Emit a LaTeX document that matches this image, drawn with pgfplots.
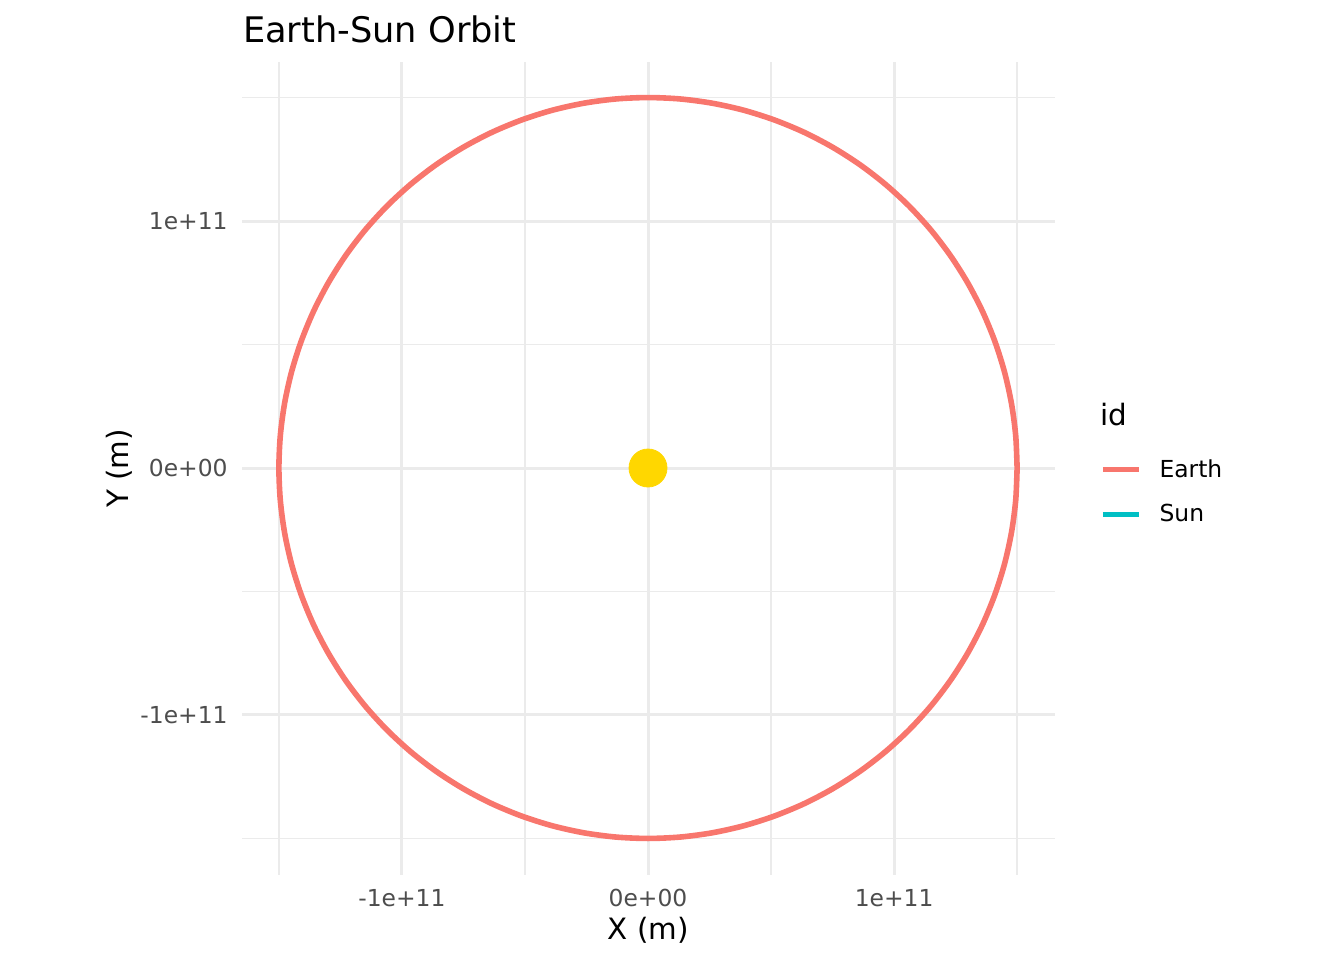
\documentclass[border=0pt]{standalone}
\usepackage{pgfplots}
\pgfplotsset{compat=1.18}
\usepackage{fontspec}
\setmainfont{DejaVu Sans}
\definecolor{earthred}{HTML}{F8766D}
\definecolor{suncyan}{HTML}{00BFC4}
\definecolor{sungold}{HTML}{FFD700}
\definecolor{gridgrey}{HTML}{EBEBEB}
\definecolor{ticktext}{HTML}{4D4D4D}

\begin{document}
\begin{tikzpicture}
\useasboundingbox (0,0) rectangle (672pt,480pt);
\begin{axis}[
  at={(121pt,42.5pt)}, anchor=south west,
  scale only axis, width=406.5pt, height=406.5pt,
  xmin=-1.65, xmax=1.654, ymin=-1.648, ymax=1.644,
  axis line style={draw=none},
  major tick length=0pt, minor tick length=0pt,
  xtick={-1,0,1}, xticklabels={-1e+11,0e+00,1e+11},
  ytick={-1,0,1}, yticklabels={-1e+11,0e+00,1e+11},
  minor xtick={-1.5,-0.5,0.5,1.5},
  minor ytick={-1.5,-0.5,0.5,1.5},
  grid=both,
  major grid style={gridgrey, line width=1.5pt},
  minor grid style={gridgrey, line width=0.8pt},
  tick label style={font=\fontsize{11.7}{14}\selectfont, text=ticktext},
  xticklabel style={anchor=center, inner sep=0pt, yshift=-11.5pt},
  yticklabel style={anchor=east, inner sep=0pt, xshift=-7pt},
  xlabel={X (m)}, ylabel={Y (m)},
  label style={font=\fontsize{14.7}{17}\selectfont},
  xlabel style={at={(axis description cs:0.5,0)}, anchor=center, yshift=-27.5pt},
  ylabel style={at={(axis description cs:-0.1513,0.5)}, anchor=center},
  title={Earth-Sun Orbit},
  title style={at={(axis description cs:0,1)}, anchor=base west, font=\fontsize{17.6}{21}\selectfont, yshift=3.5pt, xshift=-3pt},
  legend style={at={(rel axis cs:1.0553,0.4712)}, anchor=west, draw=none, fill=none,
    font=\fontsize{11.7}{14}\selectfont, inner sep=0pt, row sep=12pt,
    nodes={inner sep=0pt}},
  legend cell align=left,
  legend image code/.code={\draw[#1, line width=2.6pt] (0pt,0pt) -- (18pt,0pt);},
  legend style={/tikz/every odd column/.append style={column sep=9pt}},
  clip=false,
]
\addplot[earthred, line width=2.8pt, smooth, line join=round] coordinates {
(1.5,0) (1.4943,0.1307) (1.4772,0.2605) (1.4489,0.3882) (1.4095,0.5130) (1.3595,0.6339) (1.2990,0.75) (1.2287,0.8604) (1.1491,0.9642) (1.0607,1.0607) (0.9642,1.1491) (0.8604,1.2287) (0.75,1.2990) (0.6339,1.3595) (0.5130,1.4095) (0.3882,1.4489) (0.2605,1.4772) (0.1307,1.4943) (0,1.5)
(-0.1307,1.4943) (-0.2605,1.4772) (-0.3882,1.4489) (-0.5130,1.4095) (-0.6339,1.3595) (-0.75,1.2990) (-0.8604,1.2287) (-0.9642,1.1491) (-1.0607,1.0607) (-1.1491,0.9642) (-1.2287,0.8604) (-1.2990,0.75) (-1.3595,0.6339) (-1.4095,0.5130) (-1.4489,0.3882) (-1.4772,0.2605) (-1.4943,0.1307) (-1.5,0)
(-1.4943,-0.1307) (-1.4772,-0.2605) (-1.4489,-0.3882) (-1.4095,-0.5130) (-1.3595,-0.6339) (-1.2990,-0.75) (-1.2287,-0.8604) (-1.1491,-0.9642) (-1.0607,-1.0607) (-0.9642,-1.1491) (-0.8604,-1.2287) (-0.75,-1.2990) (-0.6339,-1.3595) (-0.5130,-1.4095) (-0.3882,-1.4489) (-0.2605,-1.4772) (-0.1307,-1.4943) (0,-1.5)
(0.1307,-1.4943) (0.2605,-1.4772) (0.3882,-1.4489) (0.5130,-1.4095) (0.6339,-1.3595) (0.75,-1.2990) (0.8604,-1.2287) (0.9642,-1.1491) (1.0607,-1.0607) (1.1491,-0.9642) (1.2287,-0.8604) (1.2990,-0.75) (1.3595,-0.6339) (1.4095,-0.5130) (1.4489,-0.3882) (1.4772,-0.2605) (1.4943,-0.1307) (1.5,0)
};
\addlegendentry{Earth}
\addlegendimage{suncyan}
\addlegendentry{Sun}
\addplot[only marks, mark=*, mark size=9.5pt, sungold, mark options={draw=sungold, fill=sungold}, forget plot] coordinates {(0,0)};
\node[anchor=west, inner sep=0pt, font=\fontsize{14.7}{17}\selectfont] at (rel axis cs:1.0554,0.566) {id};
\end{axis}
\end{tikzpicture}
\end{document}
